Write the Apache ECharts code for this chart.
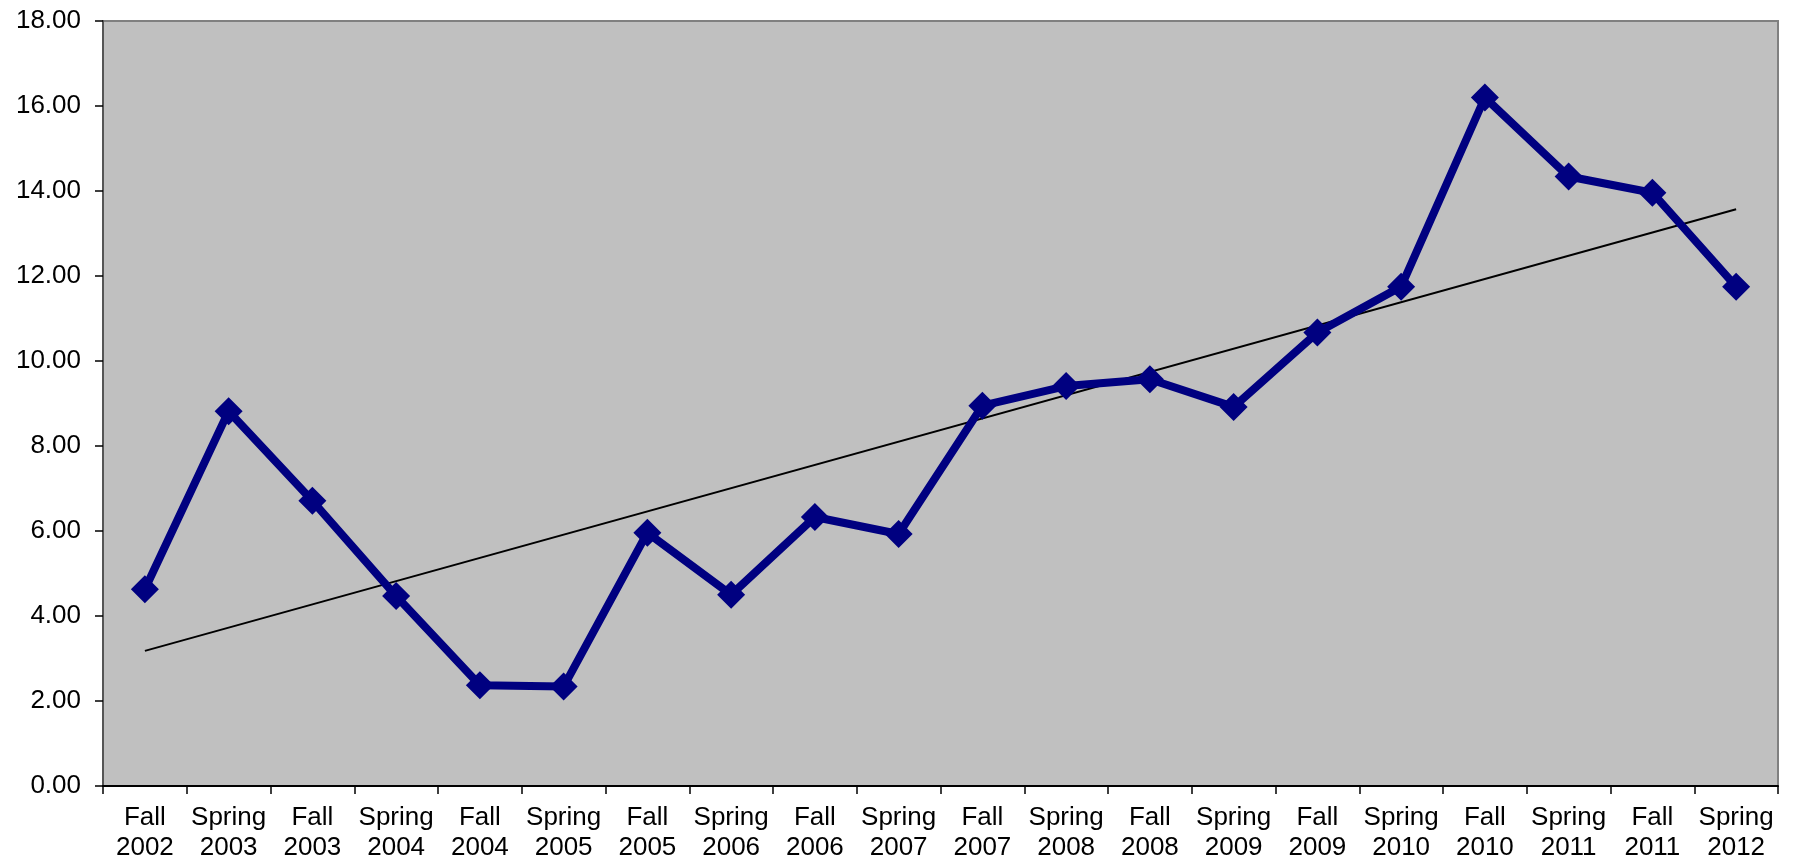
<!DOCTYPE html>
<html>
<head>
<meta charset="utf-8">
<script src="https://cdn.jsdelivr.net/npm/echarts@6/dist/echarts.min.js"></script>
<style>
html,body{margin:0;padding:0;background:#fff;}
#chart{width:1798px;height:865px;}
</style>
</head>
<body>
<div id="chart"></div>
<script>
const categories = ["Fall\n2002","Spring\n2003","Fall\n2003","Spring\n2004","Fall\n2004","Spring\n2005","Fall\n2005","Spring\n2006","Fall\n2006","Spring\n2007","Fall\n2007","Spring\n2008","Fall\n2008","Spring\n2009","Fall\n2009","Spring\n2010","Fall\n2010","Spring\n2011","Fall\n2011","Spring\n2012"];
const values = [4.63,8.82,6.71,4.47,2.37,2.34,5.96,4.50,6.33,5.93,8.95,9.41,9.57,8.92,10.67,11.75,16.20,14.34,13.96,11.75];
const trendStart = 3.18;
const trendEnd = 13.57;

const trendData = categories.map((c,i)=> i===0 ? trendStart : (i===categories.length-1 ? trendEnd : null));

const chart = echarts.init(document.getElementById('chart'));
chart.setOption({
  animation:false,
  backgroundColor:'#ffffff',
  grid:{left:103,right:20,top:21,bottom:79,show:true,backgroundColor:'#C0C0C0',borderColor:'#808080',borderWidth:2},
  xAxis:{
    type:'category',
    data:categories,
    boundaryGap:true,
    axisLine:{show:true,lineStyle:{color:'#000',width:2}},
    axisTick:{show:true,length:8,lineStyle:{color:'#000',width:1.5}},
    axisLabel:{color:'#000',fontFamily:'Liberation Sans, Arial, sans-serif',fontSize:26,lineHeight:30,margin:17,interval:0},
    splitLine:{show:false}
  },
  yAxis:{
    type:'value',
    min:0,max:18,interval:2,
    axisLine:{show:true,lineStyle:{color:'#555',width:2}},
    axisTick:{show:true,length:8,lineStyle:{color:'#000',width:1.5}},
    axisLabel:{color:'#000',fontFamily:'Liberation Sans, Arial, sans-serif',fontSize:26,margin:22,formatter:v=>v.toFixed(2)},
    splitLine:{show:false}
  },
  series:[
    {
      type:'line',
      data:trendData,
      connectNulls:true,
      symbol:'none',
      lineStyle:{color:'#000',width:2},
      z:1
    },
    {
      type:'line',
      data:values,
      symbol:'diamond',
      symbolSize:28,
      itemStyle:{color:'#000080'},
      lineStyle:{color:'#000080',width:8},
      z:2
    }
  ]
});
</script>
</body>
</html>
